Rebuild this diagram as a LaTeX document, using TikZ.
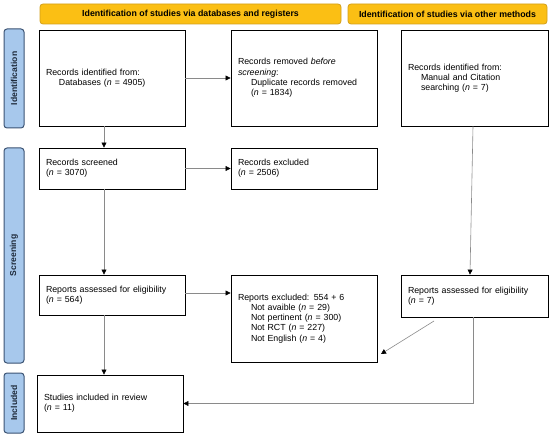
\documentclass[tikz,border=0pt]{standalone}
\usepackage{fontspec}
\setmainfont{Liberation Sans}
\usetikzlibrary{arrows.meta,calc}
\definecolor{hdrfill}{HTML}{FBBF14}
\definecolor{hdrdraw}{HTML}{D39F1A}
\definecolor{sidefill}{HTML}{A7C8EC}
\definecolor{sidedraw}{HTML}{3B5373}
\definecolor{arrgray}{HTML}{8A8A8A}
\tikzset{
  box/.style={draw=black, line width=0.9pt, fill=white, inner sep=7pt, align=left,
    font=\fontsize{8.8}{10.2}\selectfont},
  hdr/.style={draw=hdrdraw, fill=hdrfill, rounded corners=3pt, line width=0.8pt,
    font=\fontsize{8.8}{10}\selectfont\bfseries, inner sep=0pt},
  side/.style={draw=sidedraw, fill=sidefill, rounded corners=3pt, line width=1pt, inner sep=0pt},
  sidetxt/.style={rotate=90, font=\fontsize{8.6}{10}\selectfont\bfseries, text=sidedraw!50!black},
  arr/.style={draw=arrgray, line width=0.6pt, -{Triangle[black,length=5pt,width=5pt]}}
}
\begin{document}
\begin{tikzpicture}[x=1pt,y=-1pt]
\useasboundingbox (0,0) rectangle (550,436);
% headers
\node[hdr, minimum width=301pt, minimum height=20pt] (h1) at (190.5,14) {Identification of studies via databases and registers};
\node[hdr, minimum width=199pt, minimum height=20pt] (h2) at (447.5,14) {Identification of studies via other methods};
% side bars
\node[side, minimum width=20pt, minimum height=99pt] (s1) at (14,78.5) {};
\node[sidetxt] (s1t) at (s1) {Identification};
\node[side, minimum width=20pt, minimum height=215pt] (s2) at (14,255.5) {};
\node[sidetxt] (s2t) at (s2) {Screening};
\node[side, minimum width=20pt, minimum height=60pt] (s3) at (14,403) {};
\node[sidetxt] (s3t) at (s3) {Included};
% boxes
\node[box, minimum width=146pt, minimum height=96pt, text width=132pt] (a) at (112,78)
  {Records identified from:\\\hspace*{13pt}Databases (\textit{n} = 4905)};
\node[box, minimum width=146pt, minimum height=96pt, text width=132pt] (b) at (304,78)
  {Records removed \textit{before}\\\textit{screening}:\\\hspace*{13pt}Duplicate records removed\\\hspace*{13pt}(\textit{n} = 1834)};
\node[box, minimum width=147pt, minimum height=96pt, text width=133pt] (c) at (474.5,78)
  {Records identified from:\\\hspace*{13pt}Manual and Citation\\\hspace*{13pt}searching (\textit{n} = 7)};
\node[box, minimum width=146pt, minimum height=41pt, text width=132pt] (scr) at (112,168.5)
  {Records screened\\(\textit{n} = 3070)};
\node[box, minimum width=146pt, minimum height=41pt, text width=132pt] (excl) at (304,168.5)
  {Records excluded\\(\textit{n} = 2506)};
\node[box, minimum width=146pt, minimum height=40pt, text width=132pt] (rep) at (112,295)
  {Reports assessed for eligibility\\(\textit{n} = 564)};
\node[box, minimum width=146pt, minimum height=87pt, text width=132pt] (rexcl) at (304,318.5)
  {Reports excluded: 554 + 6\\\hspace*{13pt}Not avaible (\textit{n} = 29)\\\hspace*{13pt}Not pertinent (\textit{n} = 300)\\\hspace*{13pt}Not RCT (\textit{n} = 227)\\\hspace*{13pt}Not English (\textit{n} = 4)};
\node[box, minimum width=147pt, minimum height=42pt, text width=133pt] (orep) at (474.5,296)
  {Reports assessed for eligibility\\(\textit{n} = 7)};
\node[box, minimum width=146pt, minimum height=57pt, text width=132pt] (inc) at (110,403.5)
  {Studies included in review\\(\textit{n} = 11)};
% connectors
\coordinate (d1) at (434,321);
\coordinate (d2) at (381,354);
\draw[arr] (a) -- (b);
\draw[arr] ([xshift=-8pt]a.south) -- ([xshift=-8pt]scr.north);
\draw[arr] (scr) -- (excl);
\draw[arr] ([xshift=-8pt]scr.south) -- ([xshift=-8pt]rep.north);
\draw[arr] ([yshift=2pt]rep.east) -- ([yshift=2pt]rep.east -| rexcl.west);
\draw[arr] ([xshift=-8pt]rep.south) -- ([xshift=-6pt]inc.north);
\draw[arr] ([xshift=-1.5pt]c.south) -- ([xshift=-4.5pt]orep.north);
\draw[arr] (d1) -- (d2);
\draw[arr] ([xshift=-1.5pt]orep.south) |- (inc.east);
\end{tikzpicture}
\end{document}
